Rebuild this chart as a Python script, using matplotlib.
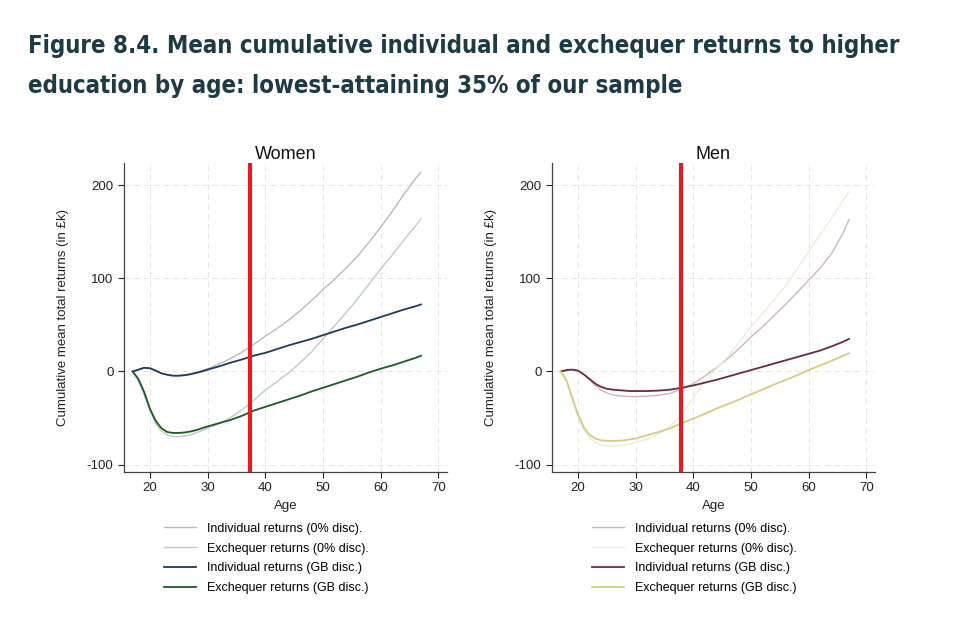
import matplotlib.pyplot as plt

ages = [17, 18, 19, 20, 21, 22, 23, 24, 25, 26, 27, 28, 29, 30,
        32, 34, 36, 38, 40, 42, 44, 46, 48, 50, 52, 54, 56, 58, 60, 62, 64, 66, 67]

# Women (in £k)
w_ind_0 = [0, 2, 4, 3.5, 1, -2, -3.5, -4.5, -4.5, -4, -2.5, -1, 1, 3,
           8, 14, 21, 29, 38, 46, 55, 65, 76, 88, 99, 111, 124, 139, 155, 172, 190, 207, 214]
w_exc_0 = [0, -10, -25, -42, -56, -64, -68, -70, -70, -69.5, -68, -66, -63.5, -61,
           -56, -49.5, -41, -31, -20, -11, -1.5, 9, 21, 35, 49, 63, 78, 94, 110, 125, 141, 156, 164]
w_ind_gb = [0, 2, 4, 3.5, 1, -2, -3.5, -4.5, -4.5, -4, -3, -1.5, 0, 2,
            5.5, 9.5, 13, 17, 20, 24, 28, 31.5, 35, 39, 43, 47, 50.5, 54.5, 58.5, 62.5, 66.5, 70, 72]
w_exc_gb = [0, -8, -22, -40, -53, -61, -65, -66, -66, -65.5, -64.5, -63, -61, -59,
            -55.5, -52, -47.5, -42, -38, -34, -30, -26, -21.5, -17.5, -13.5, -9.5, -5.5, -1, 3, 6.5, 10.5, 14.5, 17]

# Men (in £k)
m_ind_0 = [0, 1.5, 2, 1, -3, -9, -15, -20, -23, -25, -26, -26.5, -27, -27,
           -26.5, -25.5, -23.5, -19, -13, -5, 4, 14, 25, 37, 48, 60, 72, 85, 98, 111, 127, 149, 163]
m_exc_0 = [0, -10, -30, -48, -62, -71, -76, -79, -80, -80, -80, -79, -78, -76,
           -73, -67, -59, -47, -28, -10, 3, 16, 32, 48, 62, 77, 92, 110, 129, 147, 165, 184, 193]
m_ind_gb = [0, 1.5, 2, 1, -3, -8, -13, -16.5, -18.5, -19.5, -20, -20.5, -21, -21,
            -21, -20.5, -19.5, -17.5, -15, -12, -9, -5.5, -2, 1.5, 5, 8.5, 12, 15.5, 19, 22.5, 27, 32, 35]
m_exc_gb = [0, -9, -28, -46, -60, -68, -72, -74, -74.5, -74.5, -74.5, -74, -73, -72,
            -68.5, -65, -61, -55.5, -50.5, -45.5, -40, -35, -30, -24.5, -19.5, -14, -9, -4, 1.5, 6.5, 11.5, 17, 19.5]

labels = ["Individual returns (0% disc).", "Exchequer returns (0% disc).",
          "Individual returns (GB disc.)", "Exchequer returns (GB disc.)"]
cutoff = {"Women": 37.3, "Men": 37.8}

panels = [
    ("Women", [w_ind_0, w_exc_0, w_ind_gb, w_exc_gb],
     ["#b5bbc2", "#bccbcf", "#1f3a5a", "#1d5a26"]),
    ("Men", [m_ind_0, m_exc_0, m_ind_gb, m_exc_gb],
     ["#cdb7c2", "#ecedd8", "#6b2a40", "#d8cb80"]),
]
widths = [1.0, 1.0, 1.3, 1.3]

plt.rcParams['font.family'] = ['Liberation Sans', 'DejaVu Sans']
plt.rcParams['axes.unicode_minus'] = False

fig = plt.figure(figsize=(9.67, 6.43), dpi=100)
title_font = dict(fontsize=17.2, fontweight='bold', fontstretch='condensed',
                  color='#1e3a44', va='center', family=['DejaVu Sans'])
fig.text(0.029, 0.928, "Figure 8.4. Mean cumulative individual and exchequer returns to higher",
         **title_font)
fig.text(0.029, 0.866, "education by age: lowest-attaining 35% of our sample", **title_font)

lefts = [0.1282, 0.5708]
for (name, series, colors), left in zip(panels, lefts):
    ax = fig.add_axes([left, 0.2659, 0.334, 0.4806])
    handles = []
    for vals, col, lw, lab in zip(series, colors, widths, labels):
        h, = ax.plot(ages, vals, color=col, lw=lw, label=lab)
        handles.append(h)
    ax.axvline(cutoff[name], color='#e31b23', lw=3, zorder=5)
    ax.set_xlim(15.5, 71.5)
    ax.set_ylim(-108, 224)
    ax.set_xticks([20, 30, 40, 50, 60, 70])
    ax.set_yticks([-100, 0, 100, 200])
    ax.grid(True, color='#e6e6e6', lw=0.7, ls=(0, (6, 4)))
    ax.set_axisbelow(True)
    for s in ['top', 'right']:
        ax.spines[s].set_visible(False)
    for s in ['left', 'bottom']:
        ax.spines[s].set_color('#444444')
        ax.spines[s].set_linewidth(0.9)
    ax.tick_params(labelsize=9.5, colors='#222222', length=4, width=0.8)
    ax.set_xlabel("Age", fontsize=9.5, color='#222222', labelpad=4)
    ax.set_ylabel("Cumulative mean total returns (in £k)", fontsize=9.5, color='#222222', labelpad=13)
    ax.set_title(name, fontsize=13, color='#111111', pad=3)
    fig.legend(handles=handles, loc='upper left',
               bbox_to_anchor=(left + 0.041, 0.187), frameon=False,
               fontsize=9, handlelength=2.6, handletextpad=0.9,
               labelspacing=0.62, borderaxespad=0, borderpad=0)

fig.savefig("out.png", dpi=100, facecolor='white')
